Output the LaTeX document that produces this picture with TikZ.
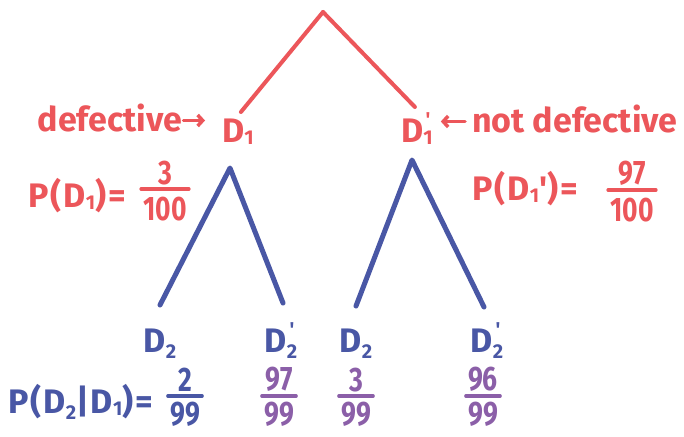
\documentclass[tikz,border=0pt]{standalone}
\usepackage{fontspec}
\setmainfont{Fira Sans}
\usetikzlibrary{arrows.meta}
\definecolor{hred}{RGB}{236,86,90}
\definecolor{hblue}{RGB}{73,87,165}
\definecolor{hpurple}{RGB}{139,95,168}
\newcommand\lsub[2][-0.1em]{{\fontsize{20}{20}\selectfont\raisebox{#1}{#2}}}
\newcommand\lsubp[2][-0.1em]{{\fontsize{20}{20}\selectfont\ooalign{\raisebox{#1}{#2}\cr\hidewidth\raisebox{0.8em}{\textquotesingle}\hidewidth\cr}}}
\newcommand\nar[1]{\scalebox{0.78}[1]{#1}}
\begin{document}
\begin{tikzpicture}[x=1pt,y=-1pt,line cap=round,line join=round,
  lab/.style={inner sep=1pt,font=\fontsize{34}{34}\selectfont\bfseries},
  expr/.style={lab,font=\fontsize{34}{34}\selectfont\bfseries\addfontfeatures{LetterSpace=6}},
  num/.style={lab,anchor=south,inner ysep=3pt},
  den/.style={lab,anchor=north,inner ysep=1pt,inner xsep=2pt},
  fbar/.style={line width=3.5pt},
  redline/.style={hred,line width=4pt},
  blueline/.style={hblue,line width=5pt},
  pointer/.style={line width=3.5pt,-{Straight Barb[length=5pt,width=11pt]}}]
\useasboundingbox[fill=white] (0,0) rectangle (684,436);
% top level
\coordinate (root) at (323,12);
\node[lab,text=hred,anchor=base] (def) at (110,131) {defective};
\node[lab,text=hred,anchor=base west] (D1) at (221,142) {D\lsub{1}};
\node[lab,text=hred,anchor=base west] (D1p) at (400,142) {D\lsubp{1}};
\node[lab,text=hred,anchor=base west] (ndef) at (471,132) {not defective};
\draw[redline] (root) -- ([xshift=3pt,yshift=30pt]D1.base);
\draw[redline] (root) -- ([xshift=-2pt,yshift=35pt]D1p.base);
\coordinate (arrL) at ([yshift=-3pt]def.east);
\coordinate (arrR) at ([yshift=-3pt]ndef.west);
\draw[pointer,hred,shorten >=16pt] (arrL) -- (arrL -| D1.west);
\draw[pointer,hred,shorten <=6pt,shorten >=7pt] (arrR) -- (arrR -| D1p.east);
% probabilities level 1
\node[expr,text=hred,anchor=base west] (pd1) at (27,207) {P(D\lsub{1})=};
\node[num,text=hred] (f1n) at (165,188) {\nar{3}};
\node[den,text=hred] (f1d) at (165,196) {\nar{100}};
\draw[fbar,hred] ([yshift=7pt]f1d.north west) -- ([yshift=7pt]f1d.north east);
\node[expr,text=hred,anchor=base west] (pd1p) at (471,200) {P(D\lsub{1}\textquotesingle)=};
\node[num,text=hred] (f2n) at (632,189) {\nar{97}};
\node[den,text=hred] (f2d) at (632,197) {\nar{100}};
\draw[fbar,hred] ([yshift=7pt]f2d.north west) -- ([yshift=7pt]f2d.north east);
% second level
\coordinate (a1) at (230,168);
\coordinate (a2) at (412,160);
\node[lab,text=hblue,anchor=base] (D21) at (160,352) {D\lsub[-0.3em]{2}};
\node[lab,text=hblue,anchor=base] (D22) at (281,352) {D\lsubp[-0.3em]{2}};
\node[lab,text=hblue,anchor=base] (D23) at (356,352) {D\lsub[-0.3em]{2}};
\node[lab,text=hblue,anchor=base] (D24) at (487,352) {D\lsubp[-0.3em]{2}};
\draw[blueline] ([yshift=47pt]D21.base) -- (a1) -- ([xshift=2pt,yshift=49pt]D22.base);
\draw[blueline] ([yshift=46pt]D23.base) -- (a2) -- ([xshift=-3pt,yshift=45pt]D24.base);
% conditional probabilities
\node[expr,text=hblue,anchor=base west] (pc) at (7,413) {P(D\lsub[-0.3em]{2}|D\lsub{1})=};
\node[num,text=hblue] (g1n) at (185,395) {\nar{2}};
\node[den,text=hblue] (g1d) at (185,401) {\nar{99}};
\draw[fbar,hblue] ([yshift=5pt]g1d.north west) -- ([yshift=5pt]g1d.north east);
\node[num,text=hpurple] (g2n) at (279,395) {\nar{97}};
\node[den,text=hpurple] (g2d) at (279,401) {\nar{99}};
\draw[fbar,hpurple] ([yshift=5pt]g2d.north west) -- ([yshift=5pt]g2d.north east);
\node[num,text=hpurple] (g3n) at (356,395) {\nar{3}};
\node[den,text=hpurple] (g3d) at (356,401) {\nar{99}};
\draw[fbar,hpurple] ([yshift=5pt]g3d.north west) -- ([yshift=5pt]g3d.north east);
\node[num,text=hpurple] (g4n) at (483,395) {\nar{96}};
\node[den,text=hpurple] (g4d) at (483,401) {\nar{99}};
\draw[fbar,hpurple] ([yshift=5pt]g4d.north west) -- ([yshift=5pt]g4d.north east);
\end{tikzpicture}
\end{document}
